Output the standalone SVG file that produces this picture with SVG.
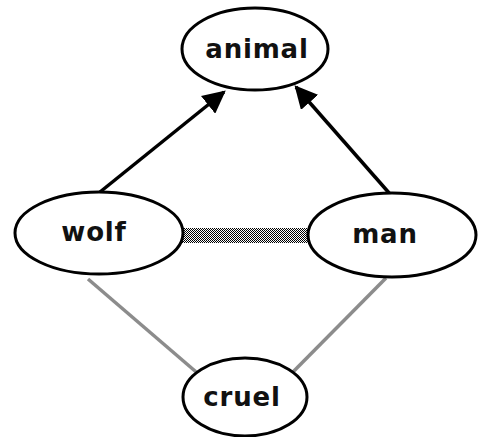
<svg xmlns="http://www.w3.org/2000/svg" width="480" height="437" viewBox="0 0 480 437">
  <style>
    .node ellipse { fill: #fff; stroke: #000; stroke-width: 3; }
    .node text { font-family: "DejaVu Sans", "Liberation Sans", sans-serif; font-weight: bold; font-size: 26px; text-anchor: middle; letter-spacing: 0.8px; fill: #111; }
    .isa { stroke: #000; stroke-width: 3.5; fill: none; }
    .link { stroke: #8c8c8c; stroke-width: 3.5; fill: none; }
  </style>
  <defs>
    <pattern id="dither" width="2" height="2" patternUnits="userSpaceOnUse">
      <rect width="2" height="2" fill="#fff"/>
      <rect width="1" height="1" fill="#000"/>
      <rect x="1" y="1" width="1" height="1" fill="#000"/>
    </pattern>
    <marker id="arrow" viewBox="0 0 10 10" refX="9" refY="5" markerWidth="6.5" markerHeight="6.5" markerUnits="strokeWidth" orient="auto">
      <path d="M0,0 L10,5 L0,10 Z" fill="#000"/>
    </marker>
  </defs>

  <g id="connectors">
    <!-- is-a arrows -->
    <line class="isa" x1="100" y1="192" x2="224" y2="92" marker-end="url(#arrow)"/>
    <line class="isa" x1="390" y1="194" x2="296" y2="87" marker-end="url(#arrow)"/>
    <!-- similarity band between wolf and man -->
    <rect x="175" y="228" width="135" height="15" fill="url(#dither)"/>
    <!-- trait links to cruel -->
    <line class="link" x1="88" y1="279" x2="202" y2="377"/>
    <line class="link" x1="386" y1="278" x2="287" y2="378"/>
  </g>

  <g id="animal" class="node">
    <ellipse cx="255" cy="49" rx="73" ry="41"/>
    <text x="257" y="58">animal</text>
  </g>
  <g id="wolf" class="node">
    <ellipse cx="99" cy="233" rx="84" ry="41"/>
    <text x="94" y="241">wolf</text>
  </g>
  <g id="man" class="node">
    <ellipse cx="392" cy="235" rx="84" ry="42"/>
    <text x="385" y="243">man</text>
  </g>
  <g id="cruel" class="node">
    <ellipse cx="245" cy="397" rx="62" ry="39"/>
    <text x="242" y="406">cruel</text>
  </g>
</svg>
